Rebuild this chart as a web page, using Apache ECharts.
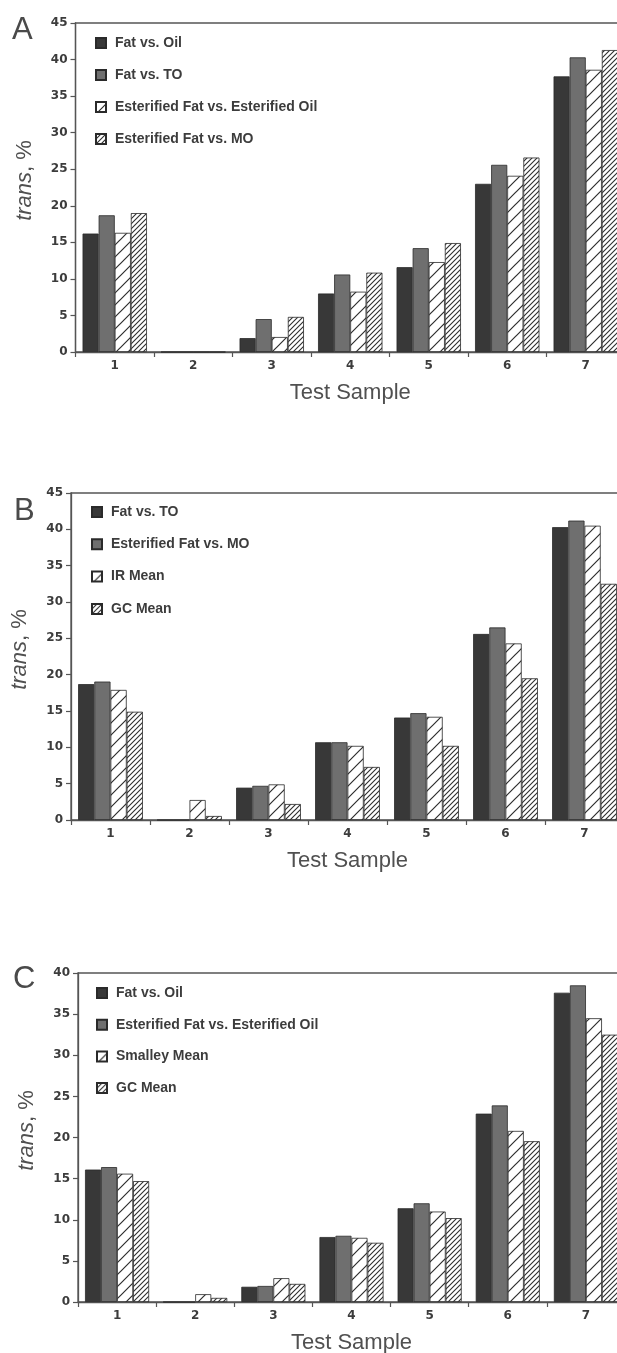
<!DOCTYPE html>
<html><head><meta charset="utf-8">
<script src="https://cdn.jsdelivr.net/npm/echarts@6/dist/echarts.min.js"></script>
<style>
html,body{margin:0;padding:0;background:#fff;width:617px;height:1353px;overflow:hidden}
.p{position:absolute;left:0;width:640px}
</style></head><body>
<div id="pa" class="p" style="top:0;height:450px"></div>
<div id="pb" class="p" style="top:450px;height:450px"></div>
<div id="pc" class="p" style="top:900px;height:453px"></div>
<script>
const categories = ['1','2','3','4','5','6','7'];

// Panel A
const namesA = ['Fat vs. Oil','Fat vs. TO','Esterified Fat vs. Esterified Oil','Esterified Fat vs. MO'];
const fatVsOilA      = [16.2, 0, 1.9, 8.0, 11.6, 23.0, 37.7];
const fatVsToA       = [18.7, 0, 4.5, 10.6, 14.2, 25.6, 40.3];
const estFatEstOilA  = [16.3, 0, 2.05, 8.25, 12.3, 24.1, 38.6];
const estFatMoA      = [19.0, 0, 4.8, 10.85, 14.9, 26.6, 41.3];

// Panel B
const namesB = ['Fat vs. TO','Esterified Fat vs. MO','IR Mean','GC Mean'];
const fatVsToB       = [18.7, 0, 4.45, 10.7, 14.1, 25.6, 40.3];
const estFatMoB      = [19.05, 0, 4.7, 10.7, 14.7, 26.5, 41.2];
const irMeanB        = [17.9, 2.75, 4.9, 10.2, 14.2, 24.3, 40.5];
const gcMeanB        = [14.9, 0.55, 2.2, 7.3, 10.2, 19.5, 32.5];

// Panel C
const namesC = ['Fat vs. Oil','Esterified Fat vs. Esterified Oil','Smalley Mean','GC Mean'];
const fatVsOilC      = [16.1, 0, 1.85, 7.9, 11.4, 22.9, 37.6];
const estFatEstOilC  = [16.4, 0, 1.95, 8.05, 12.0, 23.9, 38.5];
const smalleyMeanC   = [15.6, 0.95, 2.9, 7.8, 11.0, 20.8, 34.5];
const gcMeanC        = [14.7, 0.5, 2.2, 7.2, 10.2, 19.55, 32.5];

const yMaxA = 45, yMaxB = 45, yMaxC = 40, yStep = 5;

function hatch(step, lw) {
  const c = document.createElement('canvas');
  c.width = step; c.height = step;
  const g = c.getContext('2d');
  g.fillStyle = '#ffffff'; g.fillRect(0, 0, step, step);
  g.strokeStyle = '#2e2e2e'; g.lineWidth = lw;
  g.beginPath();
  g.moveTo(-2, step + 2); g.lineTo(step + 2, -2);
  g.moveTo(-2, 2); g.lineTo(2, -2);
  g.moveTo(step - 2, step + 2); g.lineTo(step + 2, step - 2);
  g.stroke();
  return c;
}
const wideHatch = hatch(12, 1.2);
const denseHatch = hatch(5, 1.1);
const fills = ['#383838', '#6f6f6f', {image: wideHatch, repeat: 'repeat'}, {image: denseHatch, repeat: 'repeat'}];

const FONT = '"Liberation Sans", Arial, sans-serif';
const TICKFONT = '"DejaVu Sans", sans-serif';

function build(id, cfg) {
  const chart = echarts.init(document.getElementById(id), null, {renderer: 'canvas'});
  chart.setOption({
    animation: false,
    backgroundColor: '#ffffff',
    graphic: [{
      type: 'text', left: cfg.letterX, top: cfg.letterY,
      style: {text: cfg.letter, font: '300 31px ' + FONT, fill: '#4a4a4a'}
    }],
    legend: {
      orient: 'vertical', left: cfg.legLeft, top: cfg.legTop,
      itemWidth: 10, itemHeight: 10, itemGap: cfg.legGap, icon: 'rect',
      selectedMode: false,
      data: cfg.names,
      textStyle: {fontFamily: FONT, fontWeight: 'bold', fontSize: 14, color: '#3c3c3c', lineHeight: 14, padding: [0, 0, 0, 4]}
    },
    grid: {
      left: cfg.grid[0], top: cfg.grid[1], width: cfg.grid[2], height: cfg.grid[3],
      outerBoundsMode: 'none',
      show: true, borderColor: '#555', borderWidth: 1.3, backgroundColor: 'transparent'
    },
    xAxis: {
      type: 'category', data: categories,
      name: 'Test Sample', nameLocation: 'middle', nameGap: 30,
      nameTextStyle: {fontFamily: FONT, fontSize: 22, color: '#505050'},
      axisLine: {lineStyle: {color: '#555', width: 1.3}},
      axisTick: {show: true, length: 5, lineStyle: {color: '#555', width: 1.2}},
      axisLabel: {margin: 8, fontFamily: TICKFONT, fontWeight: 'bold', fontSize: 12, color: '#3c3c3c'},
      splitLine: {show: false}
    },
    yAxis: {
      type: 'value', min: 0, max: cfg.yMax, interval: yStep,
      name: '{it|trans}, %', nameLocation: 'middle', nameGap: 40,
      nameTextStyle: {fontFamily: FONT, fontSize: 22, color: '#505050', padding: [0, 0, 0, 14],
        rich: {it: {fontFamily: FONT, fontSize: 22, fontStyle: 'italic', color: '#505050'}}},
      axisLine: {show: true, lineStyle: {color: '#555', width: 1.3}},
      axisTick: {show: true, length: 5, lineStyle: {color: '#555', width: 1.2}},
      axisLabel: {margin: 8, fontFamily: TICKFONT, fontWeight: 'bold', fontSize: 12, color: '#3c3c3c'},
      splitLine: {show: false}
    },
    series: cfg.data.map((d, i) => ({
      type: 'bar', name: cfg.names[i], data: d,
      barGap: '0%', barCategoryGap: '18%',
      itemStyle: {color: fills[i], borderColor: '#2a2a2a', borderWidth: 0.8},
      emphasis: {disabled: true}
    }))
  });
}

build('pa', {
  letter: 'A', letterX: 12, letterY: 15,
  legLeft: 90, legTop: 31, legGap: 18,
  grid: [75.5, 23, 549.5, 329], yMax: yMaxA,
  names: namesA, data: [fatVsOilA, fatVsToA, estFatEstOilA, estFatMoA]
});
build('pb', {
  letter: 'B', letterX: 14, letterY: 46,
  legLeft: 86, legTop: 50, legGap: 18.3,
  grid: [71, 43, 553, 327], yMax: yMaxB,
  names: namesB, data: [fatVsToB, estFatMoB, irMeanB, gcMeanB]
});
build('pc', {
  letter: 'C', letterX: 13, letterY: 64,
  legLeft: 91, legTop: 81, legGap: 17.7,
  grid: [78, 73, 547, 329], yMax: yMaxC,
  names: namesC, data: [fatVsOilC, estFatEstOilC, smalleyMeanC, gcMeanC]
});
</script>
</body></html>
